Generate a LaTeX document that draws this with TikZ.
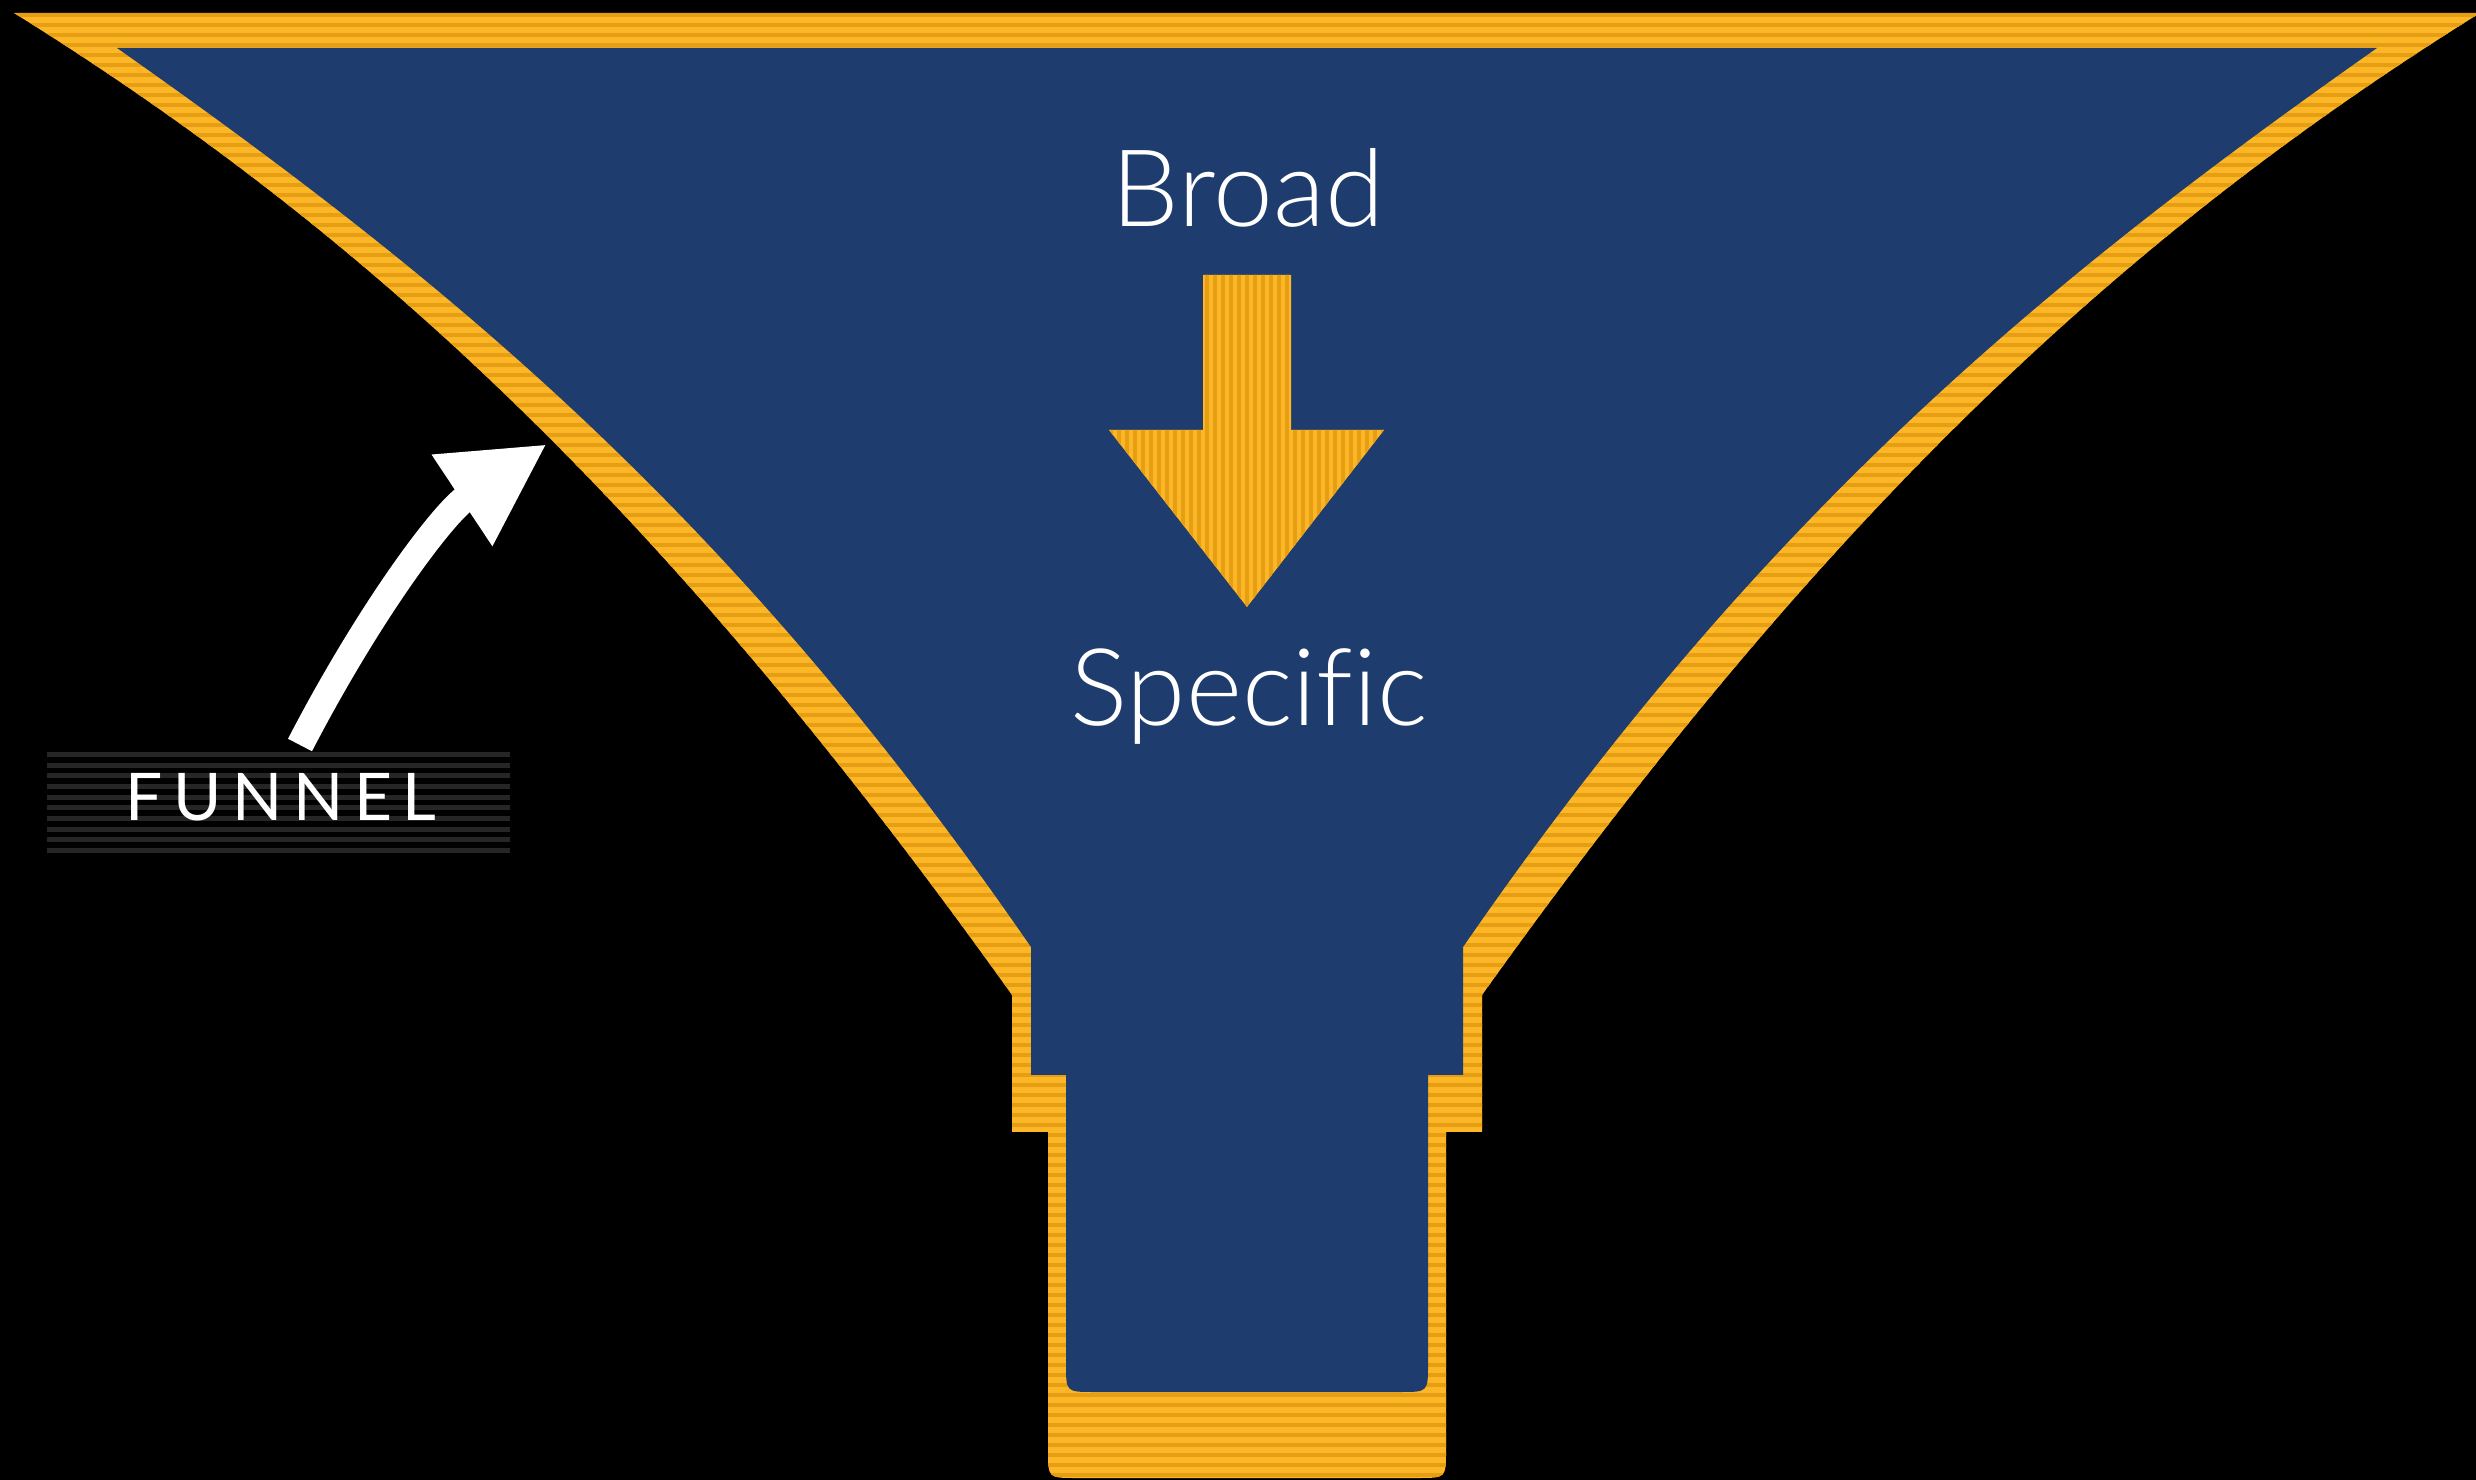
\documentclass[tikz,border=0pt]{standalone}
\usepackage{fontspec}
\usepackage{xcolor}
\usepackage{tikz}
\usetikzlibrary{arrows.meta}

\newfontfamily\thinfont{Lato Light}[Ligatures=NoCommon]
\newfontfamily\tagfont{Lato}[LetterSpace=16]

\definecolor{funnelblue}{RGB}{31,60,110}
\definecolor{amber}{RGB}{253,182,38}
\definecolor{amberdark}{RGB}{230,158,20}

% outlines in pixel units (y grows downwards)
\newcommand{\funnelouter}{(14,13) -- (2480,13)
  .. controls (2130,231) and (1832,505) .. (1482,995) -- (1482,1132) -- (1446,1132)
  -- (1446,1450) .. controls (1446,1478) .. (1418,1478) -- (1076,1478)
  .. controls (1048,1478) .. (1048,1450) -- (1048,1132) -- (1012,1132) -- (1012,995)
  .. controls (662,505) and (364,231) .. (14,13) -- cycle}
\newcommand{\funnelinner}{(117,48) -- (2377,48)
  .. controls (2047,280) and (1763,512) .. (1463,947) -- (1463,1075) -- (1428,1075)
  -- (1428,1364) .. controls (1428,1392) .. (1400,1392) -- (1094,1392)
  .. controls (1066,1392) .. (1066,1364) -- (1066,1075) -- (1031,1075) -- (1031,947)
  .. controls (731,512) and (447,280) .. (117,48) -- cycle}
\newcommand{\downshape}{(1203,275) -- (1291,275) -- (1291,430) -- (1384,430)
  -- (1247,607) -- (1109,430) -- (1203,430) -- cycle}

\tikzset{
  hstripe/.style={amberdark, line width=1.3pt},
  vstripe/.style={amberdark, line width=1pt},
  word/.style={text=white, inner sep=0pt, anchor=base,
    font=\thinfont\fontsize{30.5}{36}\selectfont},
  tag/.style={text=white, inner sep=0pt, font=\tagfont\fontsize{18.7}{22}\selectfont},
}

\begin{document}
\begin{tikzpicture}[x=0.01cm, y=-0.01cm, >={Triangle[length=1.02cm, width=1.02cm]}]
  % --- 1. Background ---
  \fill[black] (0,0) rectangle (2476,1480);
  \useasboundingbox (0,0) rectangle (2476,1480);

  % --- 2. Funnel wall, striped ---
  \fill[amber] \funnelouter;
  \begin{scope}
    \clip \funnelouter;
    \foreach \y in {15,25,...,1485}
      \draw[hstripe] (0,\y) -- (2476,\y);
  \end{scope}
  \fill[funnelblue] \funnelinner;

  % --- 3. Down arrow ---
  \fill[amber] \downshape;
  \begin{scope}
    \clip \downshape;
    \foreach \x in {1111,1119,...,1387}
      \draw[vstripe] (\x,270) -- (\x,610);
  \end{scope}

  % --- 4. Words ---
  \node[word] (broad) at (1248,227) {Broad};
  \node[word] (specific) at (1249,726) {Specific};

  % --- 5. Side label and pointer ---
  \foreach \k in {0,...,9}
    \fill[black!85] (47,{752+10.67*\k}) rectangle (510,{757+10.67*\k});
  \node[tag] (funnel) at (281,797) {FUNNEL};
  \coordinate (tail) at (300,745);
  \coordinate (rim) at (547,444);
  \draw[->, white, line width=0.27cm] (tail) .. controls (369,612) and (443,513) .. (rim);

\end{tikzpicture}
\end{document}
